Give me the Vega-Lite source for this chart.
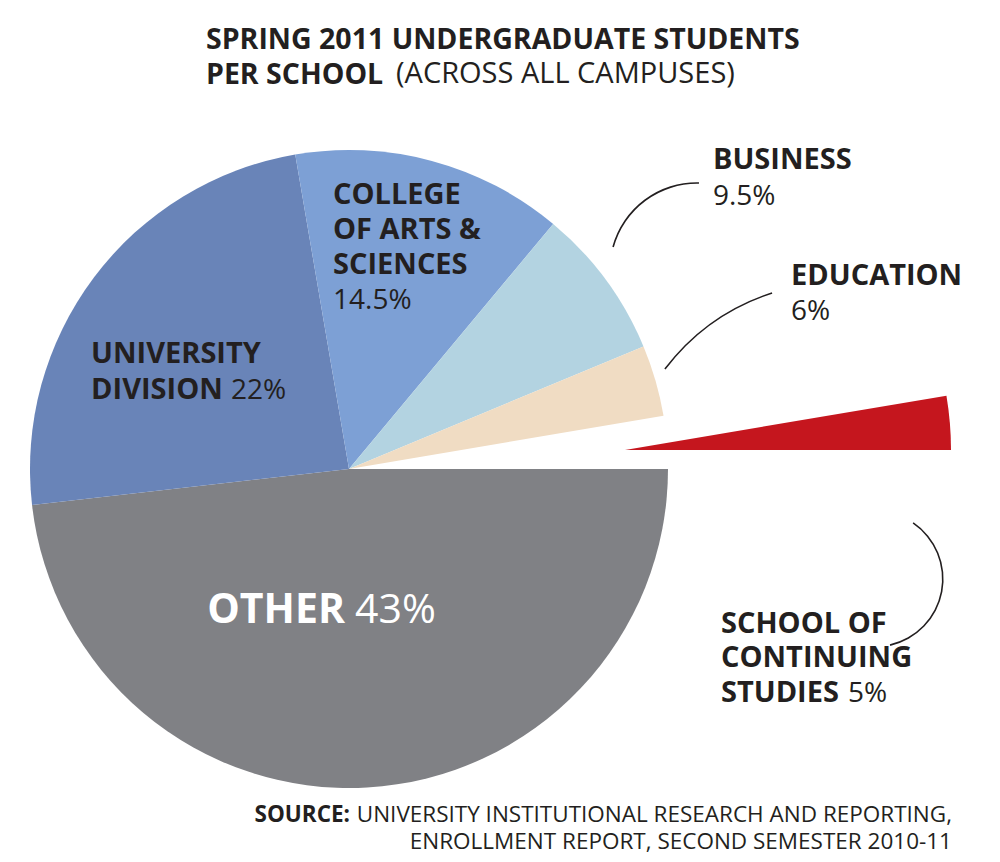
{
  "$schema": "https://vega.github.io/schema/vega-lite/v6.json",
  "autosize": {"type": "none"},
  "width": 698,
  "height": 738,
  "padding": {"left": 0, "top": 100, "right": 302, "bottom": 24},
  "background": "white",
  "title": {
    "text": ["SPRING 2011 UNDERGRADUATE STUDENTS", "PER SCHOOL"],
    "anchor": "start",
    "frame": "group",
    "dx": 206,
    "dy": 46,
    "offset": 17,
    "font": "Open Sans",
    "fontSize": 28.5,
    "fontWeight": "bold",
    "color": "#231f20",
    "lineHeight": 35
  },
  "data": {
    "values": [
      {"school": "Other", "label": "OTHER", "pct": "43%", "share": 43, "drawn_deg": 173.5, "rank": 1},
      {"school": "University Division", "label": "UNIVERSITY\nDIVISION", "pct": "22%", "share": 22, "drawn_deg": 86.8, "rank": 2},
      {"school": "College of Arts & Sciences", "label": "COLLEGE\nOF ARTS &\nSCIENCES", "pct": "14.5%", "share": 14.5, "drawn_deg": 49.5, "rank": 3},
      {"school": "Business", "label": "BUSINESS", "pct": "9.5%", "share": 9.5, "drawn_deg": 27.6, "rank": 4},
      {"school": "Education", "label": "EDUCATION", "pct": "6%", "share": 6, "drawn_deg": 13.0, "rank": 5},
      {"school": "School of Continuing Studies", "label": "SCHOOL OF\nCONTINUING\nSTUDIES", "pct": "5%", "share": 5, "drawn_deg": 9.6, "rank": 6}
    ]
  },
  "transform": [
    {"stack": "drawn_deg", "groupby": [], "sort": [{"field": "rank", "order": "ascending"}], "as": ["t0", "t1"]},
    {"calculate": "(datum.t0 + datum.t1) / 2", "as": "mid"}
  ],
  "layer": [
    {
      "transform": [{"filter": "datum.school != 'School of Continuing Studies'"}],
      "mark": {"type": "arc", "outerRadius": 319},
      "encoding": {
        "theta": {"field": "t0", "type": "quantitative", "scale": {"domain": [0, 360], "range": [1.5707963, 7.8539816]}},
        "theta2": {"field": "t1"},
        "color": {
          "field": "school",
          "type": "nominal",
          "scale": {
            "domain": ["Other", "University Division", "College of Arts & Sciences", "Business", "Education", "School of Continuing Studies"],
            "range": ["#808185", "#6984b8", "#7da0d5", "#b3d3e1", "#f0dcc3", "#c5161e"]
          },
          "legend": null
        },
        "tooltip": [{"field": "school"}, {"field": "pct"}]
      }
    },
    {
      "transform": [{"filter": "datum.school == 'School of Continuing Studies'"}],
      "mark": {"type": "arc", "outerRadius": 326, "xOffset": 276, "yOffset": -19},
      "encoding": {
        "theta": {"field": "t0", "type": "quantitative", "scale": {"domain": [0, 360], "range": [1.5707963, 7.8539816]}},
        "theta2": {"field": "t1"},
        "color": {"field": "school", "type": "nominal", "legend": null},
        "tooltip": [{"field": "school"}, {"field": "pct"}]
      }
    },
    {
      "transform": [{"filter": "datum.school == 'Business'"}],
      "mark": {"type": "arc", "theta": -1.304, "theta2": 0.0227, "innerRadius": 86.2, "outerRadius": 87.8, "xOffset": 348, "yOffset": -199, "color": "#231f20"},
      "encoding": {}
    },
    {
      "transform": [{"filter": "datum.school == 'Education'"}],
      "mark": {"type": "arc", "theta": -0.9215, "theta2": -0.3142, "innerRadius": 219, "outerRadius": 220.6, "xOffset": 491, "yOffset": 33, "color": "#231f20"},
      "encoding": {}
    },
    {
      "transform": [{"filter": "datum.school == 'School of Continuing Studies'"}],
      "mark": {"type": "arc", "theta": 0.597, "theta2": 2.918, "innerRadius": 67, "outerRadius": 68.6, "xOffset": 526, "yOffset": 110, "color": "#231f20"},
      "encoding": {}
    },
    {
      "transform": [{"filter": "datum.school == 'Other'"}],
      "mark": {"type": "text", "font": "Open Sans", "fontSize": 41, "fontWeight": "bold", "color": "white", "align": "right", "baseline": "alphabetic", "radius": 150, "dx": -12.5, "dy": 4},
      "encoding": {
        "theta": {"field": "mid", "type": "quantitative", "stack": null, "scale": {"domain": [0, 360], "range": [1.5707963, 7.8539816]}},
        "text": {"field": "label"}
      }
    },
    {
      "transform": [{"filter": "datum.school == 'Other'"}],
      "mark": {"type": "text", "font": "Open Sans", "fontSize": 41, "color": "white", "align": "left", "baseline": "alphabetic", "radius": 150, "dx": -2.5, "dy": 4},
      "encoding": {
        "theta": {"field": "mid", "type": "quantitative", "stack": null},
        "text": {"field": "pct"}
      }
    },
    {
      "transform": [{"filter": "datum.school == 'University Division'"}],
      "mark": {"type": "text", "font": "Open Sans", "fontSize": 29, "fontWeight": "bold", "color": "#231f20", "align": "left", "baseline": "alphabetic", "lineBreak": "\n", "lineHeight": 36, "radius": 200, "dx": -98, "dy": 14},
      "encoding": {
        "theta": {"field": "mid", "type": "quantitative", "stack": null},
        "text": {"field": "label"}
      }
    },
    {
      "transform": [{"filter": "datum.school == 'University Division'"}],
      "mark": {"type": "text", "font": "Open Sans", "fontSize": 28, "color": "#231f20", "align": "left", "baseline": "alphabetic", "radius": 200, "dx": 42, "dy": 50},
      "encoding": {
        "theta": {"field": "mid", "type": "quantitative", "stack": null},
        "text": {"field": "pct"}
      }
    },
    {
      "transform": [{"filter": "datum.school == 'College of Arts & Sciences'"}],
      "mark": {"type": "text", "font": "Open Sans", "fontSize": 29, "fontWeight": "bold", "color": "#231f20", "align": "left", "baseline": "alphabetic", "lineBreak": "\n", "lineHeight": 35, "radius": 230, "dx": -75.7, "dy": -42.9},
      "encoding": {
        "theta": {"field": "mid", "type": "quantitative", "stack": null},
        "text": {"field": "label"}
      }
    },
    {
      "transform": [{"filter": "datum.school == 'College of Arts & Sciences'"}],
      "mark": {"type": "text", "font": "Open Sans", "fontSize": 28, "color": "#231f20", "align": "left", "baseline": "alphabetic", "radius": 230, "dx": -75.7, "dy": 62.1},
      "encoding": {
        "theta": {"field": "mid", "type": "quantitative", "stack": null},
        "text": {"field": "pct"}
      }
    },
    {
      "transform": [{"filter": "datum.school == 'Business'"}],
      "mark": {"type": "text", "font": "Open Sans", "fontSize": 29, "fontWeight": "bold", "color": "#231f20", "align": "left", "baseline": "alphabetic", "radius": 400, "dx": 42, "dy": -62.6},
      "encoding": {
        "theta": {"field": "mid", "type": "quantitative", "stack": null},
        "text": {"field": "label"}
      }
    },
    {
      "transform": [{"filter": "datum.school == 'Business'"}],
      "mark": {"type": "text", "font": "Open Sans", "fontSize": 28, "color": "#231f20", "align": "left", "baseline": "alphabetic", "radius": 400, "dx": 42, "dy": -26.6},
      "encoding": {
        "theta": {"field": "mid", "type": "quantitative", "stack": null},
        "text": {"field": "pct"}
      }
    },
    {
      "transform": [{"filter": "datum.school == 'Education'"}],
      "mark": {"type": "text", "font": "Open Sans", "fontSize": 29, "fontWeight": "bold", "color": "#231f20", "align": "left", "baseline": "alphabetic", "radius": 420, "dx": 38.5, "dy": -67.5},
      "encoding": {
        "theta": {"field": "mid", "type": "quantitative", "stack": null},
        "text": {"field": "label"}
      }
    },
    {
      "transform": [{"filter": "datum.school == 'Education'"}],
      "mark": {"type": "text", "font": "Open Sans", "fontSize": 28, "color": "#231f20", "align": "left", "baseline": "alphabetic", "radius": 420, "dx": 38.5, "dy": -32.5},
      "encoding": {
        "theta": {"field": "mid", "type": "quantitative", "stack": null},
        "text": {"field": "pct"}
      }
    },
    {
      "transform": [{"filter": "datum.school == 'School of Continuing Studies'"}],
      "mark": {"type": "text", "font": "Open Sans", "fontSize": 29, "fontWeight": "bold", "color": "#231f20", "align": "left", "baseline": "alphabetic", "lineBreak": "\n", "lineHeight": 34.5, "radius": 440, "dx": -66.5, "dy": 200.8},
      "encoding": {
        "theta": {"field": "mid", "type": "quantitative", "stack": null},
        "text": {"field": "label"}
      }
    },
    {
      "transform": [{"filter": "datum.school == 'School of Continuing Studies'"}],
      "mark": {"type": "text", "font": "Open Sans", "fontSize": 28, "color": "#231f20", "align": "left", "baseline": "alphabetic", "radius": 440, "dx": 60.5, "dy": 269.8},
      "encoding": {
        "theta": {"field": "mid", "type": "quantitative", "stack": null},
        "text": {"field": "pct"}
      }
    },
    {
      "data": {"values": [{"note": "(ACROSS ALL CAMPUSES)"}]},
      "mark": {"type": "text", "font": "Open Sans", "fontSize": 29, "color": "#231f20", "align": "left", "baseline": "alphabetic"},
      "encoding": {
        "x": {"value": 396},
        "y": {"value": -17},
        "text": {"field": "note"}
      }
    },
    {
      "data": {"values": [{"note": "SOURCE:"}]},
      "mark": {"type": "text", "font": "Open Sans", "fontSize": 22.5, "fontWeight": "bold", "color": "#231f20", "align": "right", "baseline": "alphabetic"},
      "encoding": {
        "x": {"value": 350},
        "y": {"value": 722},
        "text": {"field": "note"}
      }
    },
    {
      "data": {"values": [{"note": "UNIVERSITY INSTITUTIONAL RESEARCH AND REPORTING,\nENROLLMENT REPORT, SECOND SEMESTER 2010-11"}]},
      "mark": {"type": "text", "font": "Open Sans", "fontSize": 22.5, "color": "#231f20", "align": "right", "baseline": "alphabetic", "lineBreak": "\n", "lineHeight": 26.5},
      "encoding": {
        "x": {"value": 952},
        "y": {"value": 722},
        "text": {"field": "note"}
      }
    }
  ],
  "config": {
    "view": {"stroke": null}
  }
}
